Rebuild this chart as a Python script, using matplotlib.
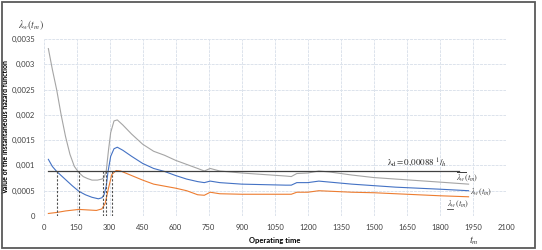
import matplotlib.pyplot as plt
from matplotlib.patches import Rectangle
from matplotlib.lines import Line2D

plt.rcParams['mathtext.fontset'] = 'stix'
plt.rcParams['font.family'] = ['Lato', 'DejaVu Sans']

# upper bound (gray)
t_up = [22, 40, 60, 80, 100, 120, 140, 160, 180, 200, 220, 245, 265, 275, 285, 295, 305, 320, 335, 360,
        400, 450, 500, 550, 600, 650, 700, 730, 757, 800, 900, 1000, 1100, 1125, 1150, 1200, 1250, 1300,
        1400, 1500, 1600, 1700, 1800, 1930]
v_up = [0.00331, 0.0029, 0.00249, 0.00200, 0.00157, 0.00122, 0.00098, 0.00086, 0.00078, 0.00074, 0.00071,
        0.00071, 0.00073, 0.00076, 0.00090, 0.00130, 0.00165, 0.00188, 0.00190, 0.00180, 0.00162, 0.00142,
        0.00128, 0.00120, 0.00110, 0.00102, 0.00094, 0.00089, 0.00094, 0.00089, 0.00085, 0.00082, 0.00079,
        0.00078, 0.00084, 0.00085, 0.00089, 0.00087, 0.00081, 0.00076, 0.00073, 0.00070, 0.00067, 0.00063]

# point estimate (blue)
t_mid = [22, 40, 60, 80, 100, 130, 160, 190, 220, 249, 265, 275, 285, 293, 305, 320, 335, 360, 400, 450,
         500, 550, 600, 650, 700, 730, 757, 800, 900, 1000, 1100, 1125, 1150, 1200, 1250, 1300, 1400, 1500,
         1600, 1700, 1800, 1930]
v_mid = [0.00112, 0.00098, 0.00088, 0.00080, 0.00072, 0.00060, 0.00049, 0.00042, 0.00037, 0.00034, 0.00036,
         0.00042, 0.00060, 0.00088, 0.00118, 0.00133, 0.00136, 0.00130, 0.00118, 0.00104, 0.00094, 0.00088,
         0.00080, 0.00073, 0.00068, 0.00066, 0.00069, 0.00066, 0.00063, 0.00062, 0.00061, 0.00061, 0.00066,
         0.00066, 0.00069, 0.00067, 0.00063, 0.00060, 0.00057, 0.00055, 0.00053, 0.00050]

# lower bound (orange)
t_low = [22, 60, 100, 160, 200, 240, 265, 280, 295, 310, 330, 350, 400, 450, 500, 550, 600, 650, 700, 730,
         757, 800, 900, 1000, 1100, 1125, 1150, 1200, 1250, 1300, 1400, 1500, 1600, 1700, 1800, 1930]
v_low = [0.00005, 0.00007, 0.00010, 0.00013, 0.00012, 0.00011, 0.00014, 0.00025, 0.00055, 0.00082, 0.00090,
         0.00089, 0.00080, 0.00071, 0.00063, 0.00059, 0.00055, 0.00050, 0.00042, 0.00041, 0.00047, 0.00044,
         0.00043, 0.00043, 0.00043, 0.00043, 0.00047, 0.00047, 0.00050, 0.00049, 0.00047, 0.00046, 0.00044,
         0.00042, 0.00040, 0.00038]

lam_d = 0.00088
t_d = [22, 1885]
t_cross = [60, 163, 272, 285, 310]

xticks = list(range(0, 2101, 150))
yticks = [0, 0.0005, 0.001, 0.0015, 0.002, 0.0025, 0.003, 0.0035]
ylabels = ['0', '0,0005', '0,001', '0,0015', '0,002', '0,0025', '0,003', '0,0035']

fig = plt.figure(figsize=(5.42, 2.5), dpi=100)
ax = fig.add_axes([0.0803, 0.136, 0.8533, 0.708])

ax.plot(t_up, v_up, color='#A5A5A5', lw=0.8)
ax.plot(t_mid, v_mid, color='#4472C4', lw=0.8)
ax.plot(t_low, v_low, color='#ED7D31', lw=0.8)
ax.plot(t_d, [lam_d, lam_d], color='#404040', lw=0.9)
for tc in t_cross:
    ax.plot([tc, tc], [0, lam_d], color='#505050', lw=0.8, ls=(0, (2, 1.5)))

ax.set_xlim(0, 2100)
ax.set_ylim(0, 0.0035)
ax.set_xticks(xticks)
ax.set_yticks(yticks)
ax.set_yticklabels(ylabels)
ax.tick_params(labelsize=5.5, length=0, pad=6, colors='#404040')
ax.grid(True, color='#DCE3EC', lw=0.7, ls=(0, (3, 1)))
for s in ax.spines.values():
    s.set_visible(False)

ax.set_xlabel('Operating time', fontsize=5.5, fontweight='bold')
ax.xaxis.set_label_coords(0.5, -0.12)
ax.set_ylabel('Value of the instantaneous hazard function', fontsize=5, fontweight='bold')
ax.yaxis.set_label_coords(-0.074, 0.5)

fig.text(0.033, 0.888, r'$\lambda_w(t_m)$', fontsize=7, color='#404040')
fig.text(0.865, 0.025, r'$t_m$', fontsize=7.5, color='#404040')
ax.text(1560, 0.00099, r'$\mathrm{\lambda_d = 0{,}00088}\ {}^{1}/{}_{h}$', fontsize=6.5, color='#222222')
ax.text(1875, 0.00071, r'$\overline{\lambda_w}(t_m)$', fontsize=6, color='#404040')
ax.text(1938, 0.00043, r'$\lambda_w(t_m)$', fontsize=6, color='#404040')
low_lbl = ax.text(1830, 0.00019, r'$\lambda_w(t_m)$', fontsize=6, color='#404040')

fig.canvas.draw()
bb = low_lbl.get_window_extent().transformed(fig.transFigure.inverted())
fig.add_artist(Line2D([bb.x0, bb.x0 + bb.width * 0.3], [bb.y0 + 0.004, bb.y0 + 0.004],
                      transform=fig.transFigure, color='#404040', lw=0.6))

fig.patches.append(Rectangle((0.004, 0.008), 0.984, 0.984, transform=fig.transFigure,
                             fill=False, edgecolor='#595959', lw=1.3))

fig.savefig('out.png', dpi=100)
